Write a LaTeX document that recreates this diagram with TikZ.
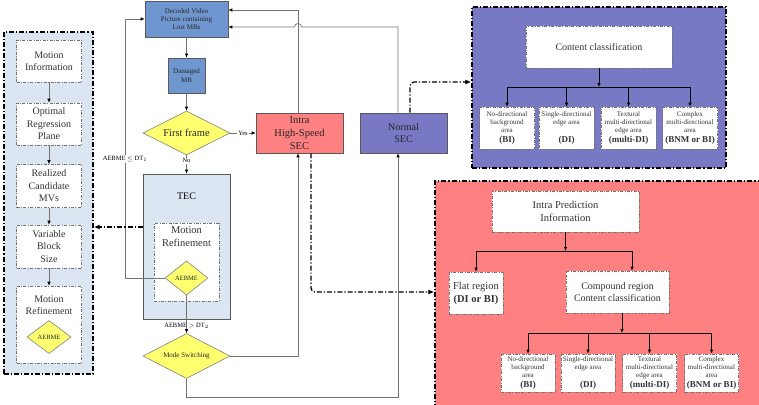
\documentclass[tikz,border=0pt]{standalone}
\usepackage{fontspec}
\setmainfont{Liberation Serif}
\usepackage{xcolor}
\usepackage{tikz}
\usetikzlibrary{shapes.geometric, arrows.meta, positioning, calc}

\definecolor{tecblue}{RGB}{220,230,242}
\definecolor{decblue}{RGB}{112,150,208}
\definecolor{diayellow}{RGB}{255,255,112}
\definecolor{secred}{RGB}{255,128,128}
\definecolor{secpurple}{RGB}{120,120,196}

\newcommand{\clsbold}[1]{{\fontsize{9}{9}\selectfont\bfseries #1}}

\begin{document}
\begin{tikzpicture}[x=1pt, y=-1pt,
  panel/.style={draw=black, line width=1.3pt, dash pattern=on 5pt off 2pt on 1.2pt off 2pt, inner sep=0pt},
  wbox/.style={draw=black!55, fill=white, line width=0.6pt, dash pattern=on 3pt off 1.5pt on 0.8pt off 1.5pt, align=center, inner sep=1pt, text=black!80},
  sbox/.style={draw=black!65, line width=0.6pt, align=center, inner sep=1pt, text=black!85},
  dia/.style={diamond, aspect=2, draw=black!50, fill=diayellow, line width=0.6pt, inner sep=0pt, align=center, text=black!85},
  bigtext/.style={font=\fontsize{10.5}{13}\selectfont},
  midtext/.style={font=\fontsize{10}{12.5}\selectfont},
  smalltext/.style={font=\fontsize{7}{8.3}\selectfont},
  tinytext/.style={font=\fontsize{6.5}{7.5}\selectfont},
  arrow/.style={draw=black!55, line width=0.7pt, -{Latex[length=4pt, width=3.5pt, color=black]}},
  flowline/.style={draw=black!55, line width=0.7pt},
  ddarrow/.style={draw=black, line width=1.3pt, dash pattern=on 5pt off 2pt on 1.2pt off 2pt, rounded corners=4pt, -{Latex[length=6pt, width=5pt]}},
  catarrow/.style={draw=black, line width=0.7pt, -{Latex[length=4pt, width=3.5pt]}},
  catline/.style={draw=black, line width=0.7pt}
]
\useasboundingbox (0,0) rectangle (759,404);
% panels
\node[panel, fill=tecblue, minimum width=89pt, minimum height=342pt] (leftpanel) at (48.5,203) {};
\node[panel, fill=secpurple, minimum width=254pt, minimum height=161pt] (bluepanel) at (599,87.5) {};
\node[panel, fill=secred, minimum width=335pt, minimum height=239pt] (pinkpanel) at (602.5,300.5) {};
% left column
\node[wbox, midtext, minimum width=65pt, minimum height=42pt] (motinfo) at (49,61) {Motion\\Information};
\node[wbox, midtext, minimum width=65pt, minimum height=42pt] (regplane) at (49,124) {Optimal\\Regression\\Plane};
\node[wbox, midtext, minimum width=65pt, minimum height=43pt] (candmv) at (49,186) {Realized\\Candidate\\MVs};
\node[wbox, midtext, minimum width=65pt, minimum height=43pt] (blocksize) at (49,246.5) {Variable\\Block\\Size};
\node[wbox, minimum width=65pt, minimum height=77pt, label={[midtext, align=center, anchor=north, inner sep=1pt, yshift=-8.5pt, text=black!80]north:Motion\\Refinement}] (refineleft) at (49,324.5) {};
\node[dia, tinytext, minimum width=44pt, minimum height=33pt] (aebmeleft) at (49,337) {AEBME};
% center column
\node[sbox, fill=decblue, smalltext, minimum width=83pt, minimum height=36pt] (decoded) at (186.5,19) {Decoded Video\\Picture containing\\Lost MBs};
\node[sbox, fill=decblue, smalltext, minimum width=37pt, minimum height=35pt] (damaged) at (186.5,75.5) {Damaged\\MB};
\node[dia, bigtext, minimum width=87pt, minimum height=44pt] (firstframe) at (186.5,133) {First frame};
\node[sbox, fill=tecblue, minimum width=87pt, minimum height=145pt, label={[midtext, anchor=north, inner sep=1pt, yshift=-17.5pt]north:TEC}] (tec) at (186.5,246.5) {};
\node[wbox, minimum width=65pt, minimum height=78pt, label={[bigtext, align=center, anchor=north, inner sep=1pt, yshift=-2.5pt, text=black!80]north:Motion\\Refinement}] (refinetec) at (186.5,262) {};
\node[dia, tinytext, minimum width=43pt, minimum height=34pt] (aebme) at (186.5,278) {AEBME};
\node[dia, smalltext, minimum width=87pt, minimum height=45pt] (modeswitch) at (186.5,356) {Mode Switching};
\node[sbox, fill=secred, bigtext, minimum width=87pt, minimum height=40pt] (intrasec) at (299.5,133) {Intra\\High-Speed\\SEC};
\node[sbox, fill=secpurple, midtext, minimum width=87pt, minimum height=40pt] (normalsec) at (403.5,133) {Normal\\SEC};
% blue panel
\node[wbox, midtext, minimum width=146pt, minimum height=42pt] (contentcls) at (599,47) {Content classification};
\node[wbox, smalltext, minimum width=55pt, minimum height=42pt] (bnodir) at (507,128) {No-directional\\background\\area\\[1.4pt]\clsbold{(BI)}};
\node[wbox, smalltext, minimum width=55pt, minimum height=42pt] (bsingle) at (566.5,128) {Single-directional\\edge area\\[9.7pt]\clsbold{(DI)}};
\node[wbox, smalltext, minimum width=55pt, minimum height=42pt] (btextural) at (628.5,128) {Textural\\multi-directional\\edge area\\[1.4pt]\clsbold{(multi-DI)}};
\node[wbox, smalltext, minimum width=55pt, minimum height=42pt] (bcomplex) at (690,128) {Complex\\multi-directional\\area\\[1.4pt]\clsbold{(BNM or BI)}};
% pink panel
\node[wbox, bigtext, minimum width=147pt, minimum height=41pt] (intrapred) at (565.5,211.5) {Intra Prediction\\Information};
\node[wbox, bigtext, minimum width=54pt, minimum height=42pt] (flat) at (476,293) {Flat region\\\textbf{(DI or BI)}};
\node[wbox, midtext, minimum width=103pt, minimum height=42pt] (compound) at (617.5,292) {Compound region\\Content classification};
\node[wbox, smalltext, minimum width=54pt, minimum height=38pt] (pnodir) at (528,373) {No-directional\\background\\area\\[1.4pt]\clsbold{(BI)}};
\node[wbox, smalltext, minimum width=54pt, minimum height=38pt] (psingle) at (588,373) {Single-directional\\edge area\\[9.7pt]\clsbold{(DI)}};
\node[wbox, smalltext, minimum width=54pt, minimum height=38pt] (ptextural) at (649.5,373) {Textural\\multi-directional\\edge area\\[1.4pt]\clsbold{(multi-DI)}};
\node[wbox, smalltext, minimum width=54pt, minimum height=38pt] (pcomplex) at (711.5,373) {Complex\\multi-directional\\area\\[1.4pt]\clsbold{(BNM or BI)}};
\coordinate (intrax) at (298,0);
\coordinate (normalx) at (398,0);
\coordinate (looptop) at (125,19);
\coordinate (intratop) at (298,10);
\coordinate (normaltop) at (398,27);
\coordinate (msbottom) at (398,397);
\coordinate (tecdd) at (0,227);
\coordinate (intradd) at (311,292);
\coordinate (normaldd) at (410,82);
\coordinate (bluesplit) at (599,87);
\coordinate (pinksplit) at (565.5,251);
\coordinate (compin) at (632,0);
\coordinate (compout) at (622,333);
\draw[arrow] (motinfo) -- (regplane);
\draw[arrow] (regplane) -- (candmv);
\draw[arrow] (candmv) -- (blocksize);
\draw[arrow] (blocksize) -- (refineleft);
\draw[arrow] (decoded) -- (damaged);
\draw[arrow] (damaged) -- (firstframe);
\draw[arrow] (firstframe) -- node[tinytext, fill=white, inner sep=1pt] {Yes} (intrasec);
\draw[arrow] (firstframe) -- node[tinytext, fill=white, inner sep=1pt, pos=0.3] {No} (tec);
\draw[arrow] (aebme) -- node[tinytext, pos=0.8] {AEBME $>$ DT$_2$} (modeswitch);
\draw[arrow] (aebme.west) -| node[tinytext, fill=white, inner sep=1pt, pos=0.73] {AEBME $\leq$ DT$_1$} (looptop) -- (decoded.west |- looptop);
\draw[arrow] (intrasec.north -| intrax) -- (intratop) -- (decoded.east |- intratop);
\draw[arrow] (normalsec.north -| normalx) -- (normaltop) -- ($(intratop |- normaltop)+(3.5,0)$) arc[start angle=0, end angle=-180, radius=3.5] -- (decoded.east |- normaltop);
\draw[arrow] (modeswitch.east) -| (intrax |- intrasec.south);
\draw[arrow] (modeswitch.south) |- (msbottom) -- (normalx |- normalsec.south);
\draw[ddarrow] (tec.west |- tecdd) -- (leftpanel.east |- tecdd);
\draw[ddarrow] (intradd |- intrasec.south) |- (pinkpanel.west |- intradd);
\draw[ddarrow] (normaldd |- normalsec.north) |- (bluepanel.west |- normaldd);
\draw[catarrow] (contentcls) -- (bluesplit);
\draw[catline] (bnodir.north |- bluesplit) -- (bcomplex.north |- bluesplit);
\draw[catarrow] (bnodir.north |- bluesplit) -- (bnodir.north);
\draw[catarrow] (bsingle.north |- bluesplit) -- (bsingle.north);
\draw[catarrow] (btextural.north |- bluesplit) -- (btextural.north);
\draw[catarrow] (bcomplex.north |- bluesplit) -- (bcomplex.north);
\draw[catarrow] (intrapred) -- (pinksplit);
\draw[catline] (flat.north |- pinksplit) -- (compin |- pinksplit);
\draw[catarrow] (flat.north |- pinksplit) -- (flat.north);
\draw[catarrow] (compin |- pinksplit) -- (compin |- compound.north);
\draw[catarrow] (compout |- compound.south) -- (compout);
\draw[catline] (pnodir.north |- compout) -- (pcomplex.north |- compout);
\draw[catarrow] (pnodir.north |- compout) -- (pnodir.north);
\draw[catarrow] (psingle.north |- compout) -- (psingle.north);
\draw[catarrow] (ptextural.north |- compout) -- (ptextural.north);
\draw[catarrow] (pcomplex.north |- compout) -- (pcomplex.north);
\end{tikzpicture}
\end{document}
